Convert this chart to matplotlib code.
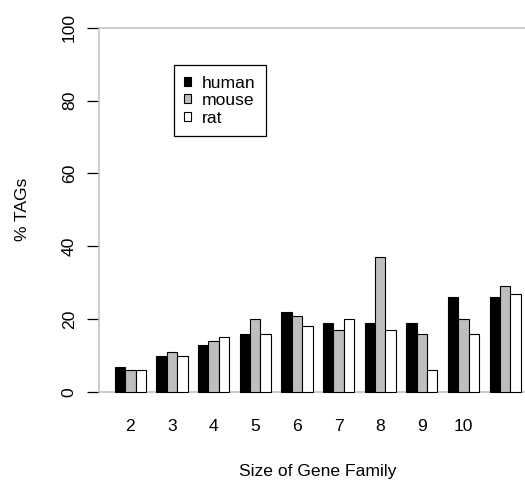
import numpy as np
import matplotlib
matplotlib.use("Agg")
import matplotlib.pyplot as plt
from matplotlib.patches import Patch

## ------------------------------- ##
## data
species = ["human", "mouse", "rat"]
human = [7, 10, 13, 16, 22, 19, 19, 19, 26, 26]
mouse = [6, 11, 14, 20, 21, 17, 37, 16, 20, 29]
rat = [6, 10, 15, 16, 18, 20, 17, 6, 16, 27]
tick_labels = ["2", "3", "4", "5", "6", "7", "8", "9", "10"]
colors = ["black", "#BEBEBE", "white"]
## ------------------------------- ##

plt.rcParams["font.family"] = ["Liberation Sans", "DejaVu Sans"]
plt.rcParams["font.size"] = 12.6

fig = plt.figure(figsize=(5.25, 4.82), dpi=100)
# R-style plot region, runs a bit past the right edge of the figure
ax = fig.add_axes([98.5 / 525, 1 - 406.6 / 482, (537 - 98.5) / 525, 393.5 / 482])

# barplot(beside=TRUE): bar width 1, groups separated by one bar width
n = len(human)
group_start = 1 + 4 * np.arange(n)
for k, vals in enumerate([human, mouse, rat]):
    ax.bar(group_start + k, vals, width=1.0, align="edge",
           color=colors[k], edgecolor="black", linewidth=0.8, zorder=3)

ax.set_xlim(-0.56, 41.56)
ax.set_ylim(-4, 104)

# grey frame lines at 0 and 100
ax.axhline(0, color="#C4C4C4", lw=1.2, zorder=2)
ax.axhline(100, color="#C4C4C4", lw=1.2, zorder=2)
for s in ["top", "right", "bottom"]:
    ax.spines[s].set_visible(False)
ax.spines["left"].set_bounds(0, 100)
ax.spines["left"].set_color("#C4C4C4")
ax.spines["left"].set_linewidth(1.2)

ax.set_yticks(np.arange(0, 101, 20))
ax.tick_params(axis="y", length=8.6, width=0.9, color="black", pad=7)
plt.setp(ax.get_yticklabels(), rotation=90, va="center")

centers = group_start[:len(tick_labels)] + 1.5
ax.set_xticks(centers)
ax.set_xticklabels(tick_labels)
ax.tick_params(axis="x", length=0, pad=9)

ax.set_xlabel("Size of Gene Family", va="center")
ax.xaxis.set_label_coords(0.5, -0.166)
ax.set_ylabel("% TAGs", va="center")
ax.yaxis.set_label_coords(-0.173, 0.5)

handles = [Patch(facecolor=c, edgecolor="black", linewidth=0.8) for c in colors]
leg = ax.legend(handles, species, loc="upper left", bbox_to_anchor=(0.172, 0.868),
                borderaxespad=0, fancybox=False, framealpha=1, edgecolor="black",
                handlelength=0.4, handleheight=0.4, handletextpad=0.6,
                labelspacing=0.15, borderpad=0.6)
leg.get_frame().set_linewidth(0.9)

fig.savefig("out.png", dpi=100)
